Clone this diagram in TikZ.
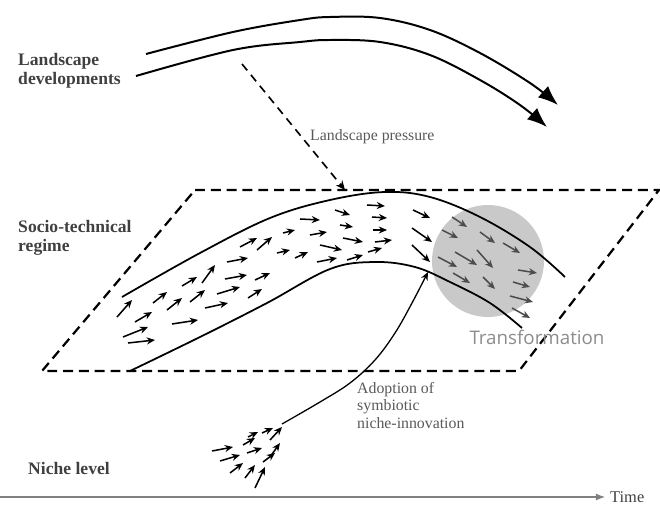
\documentclass[tikz,border=0pt]{standalone}
\usepackage{fontspec}
\setmainfont{Liberation Serif}
\newfontfamily\transfont{Open Sans}
\usetikzlibrary{arrows.meta}

\definecolor{labelgray}{gray}{0.25}
\definecolor{textgray}{gray}{0.35}
\definecolor{circlegray}{gray}{0.79}
\definecolor{transgray}{gray}{0.55}
\definecolor{flowgray}{gray}{0.3}

\begin{document}
\begin{tikzpicture}[x=0.03cm,y=-0.03cm,
  level/.style={text=labelgray,font=\fontsize{15}{16}\selectfont\bfseries,align=left,inner sep=0pt,anchor=west},
  note/.style={text=textgray,font=\fontsize{13.5}{15}\selectfont,align=left,inner sep=0pt},
  regimebox/.style={dashed,line width=1.9pt,dash pattern=on 8.5pt off 5pt},
  band/.style={line width=1.5pt,smooth,tension=0.6},
  trend/.style={line width=1.7pt,-{Latex[length=17pt,width=13pt]}},
  flow/.style={line width=1.3pt,-{Stealth[length=7pt,width=6pt]}},
  grayflow/.style={flow,draw=flowgray}]
  \useasboundingbox (0,0) rectangle (660,506);

  % labels
  \node[level] (landscape) at (18,71) {Landscape\\developments};
  \node[level] (regime) at (18,238) {Socio-technical\\regime};
  \node[level] (niche) at (28,468) {Niche level};
  \node[note,anchor=west] (pressure) at (310,137) {Landscape pressure};
  \node[note,anchor=north west] (adoption) at (357,382) {Adoption of\\symbiotic\\niche-innovation};

  % landscape trends
  \draw[trend] plot[smooth,tension=0.6] coordinates {(146,54) (233,32) (300,20) (330,17) (380,18) (430,30) (480,53) (530,83) (558,105)};
  \draw[trend] plot[smooth,tension=0.6] coordinates {(136,76) (233,50) (300,42) (330,40) (380,42) (430,55) (480,80) (520,105) (547,127)};

  % regime plane
  \draw[regimebox] (195,190) -- (659,190) -- (519,371) -- (42,371) -- cycle;

  % transformation zone
  \fill[circlegray] (488,261) circle (56);
  \node[text=transgray,font=\transfont\fontsize{16}{18}\selectfont,inner sep=0pt] (transformation) at (537,337) {Transformation};

  % regime band
  \draw[band] plot coordinates {(122,297) (200,253) (270,218) (330,200) (385,192) (430,197) (480,217) (530,247) (565,277)};
  \draw[band] plot coordinates {(130,371) (200,337) (267,303) (330,269) (375,262) (415,267) (450,282) (490,303) (522,328)};

  % landscape pressure
  \coordinate (lp-start) at (242,64);
  \coordinate (lp-end) at (345,190);
  \draw[line width=1.4pt,dash pattern=on 7pt off 5pt,-{Stealth[length=8pt,width=7pt]}] (lp-start) -- (lp-end);

  % regime flows
  \foreach \xa/\ya/\xb/\yb in {117/317/132/300, 123/337/148/327, 128/343/155/340, 135/322/152/312,
      153/303/167/292, 167/310/182/298, 172/324/198/320, 182/286/197/277, 190/302/205/290,
      202/283/215/265, 205/308/228/303, 217/294/240/287, 225/279/247/275, 227/262/248/258,
      240/247/257/238, 248/298/262/289, 255/280/270/273, 257/250/272/237, 277/253/290/250,
      295/258/308/252, 283/233/295/230, 300/219/320/220, 310/235/327/232, 317/262/337/258,
      320/245/342/250, 335/210/350/215, 340/225/353/227, 343/238/363/242, 347/260/363/255,
      367/205/385/206, 372/217/387/218, 373/230/387/230, 375/242/392/240, 368/252/382/248,
      413/210/430/218, 412/228/432/242, 412/245/430/262}
    \draw[flow] (\xa,\ya) -- (\xb,\yb);
  \foreach \xa/\ya/\xb/\yb in {452/217/467/227, 442/230/458/238, 480/232/495/243, 503/243/520/253,
      455/252/477/265, 477/250/493/268, 438/257/457/267, 453/273/470/283, 483/277/495/289,
      518/270/537/273, 513/282/530/287, 510/296/533/302, 512/308/530/318}
    \draw[grayflow] (\xa,\ya) -- (\xb,\yb);

  % niche flows
  \foreach \xa/\ya/\xb/\yb in {212/451/233/447, 220/461/240/455, 230/473/243/463, 245/478/255/465,
      255/488/265/467, 243/445/255/438, 247/453/262/448, 248/437/258/432, 263/462/275/453,
      270/457/280/443, 262/433/273/428, 270/440/282/427}
    \draw[flow] (\xa,\ya) -- (\xb,\yb);

  % adoption path
  \coordinate (niche-top) at (282,424);
  \coordinate (band-entry) at (428,272);
  \draw[line width=1.1pt,-{Stealth[length=7pt,width=6pt]}] plot[smooth,tension=0.6] coordinates {(niche-top) (320,402) (350,383) (375,360) (395,333) (412,303) (band-entry)};

  % time axis
  \coordinate (axis-start) at (0,497);
  \node[font=\fontsize{14}{16}\selectfont,text=labelgray,inner sep=0pt,anchor=west] (time) at (610,497) {Time};
  \draw[line width=1.3pt,draw=gray,-{Latex[length=8pt,width=6pt]}] (axis-start) -- ([xshift=-4pt]time.west);
\end{tikzpicture}
\end{document}
